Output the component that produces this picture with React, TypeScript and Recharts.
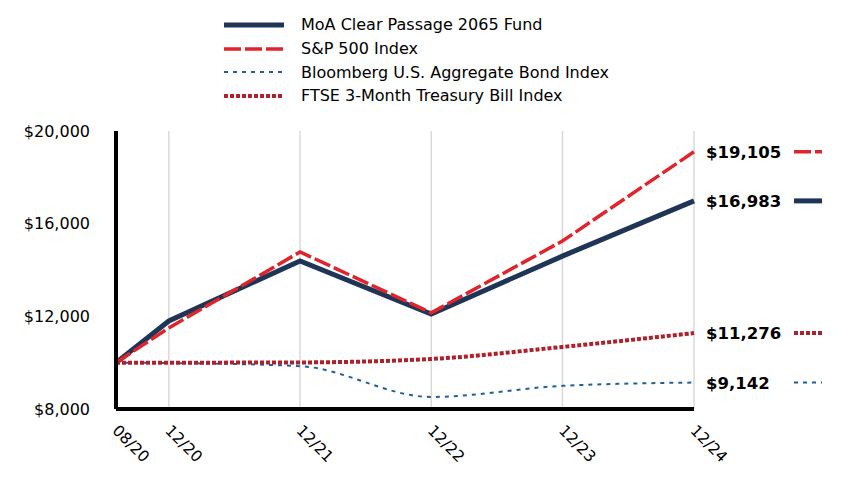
import React from "react";
import { LineChart, Line, XAxis, YAxis, CartesianGrid, Legend, LabelList } from "recharts";

const dates = ["2020-08-06", "2020-12-31", "2021-12-31", "2022-12-31", "2023-12-31", "2024-12-31"];
const dateLabels = ["08/20", "12/20", "12/21", "12/22", "12/23", "12/24"];
const fund = [10000, 11800, 14390, 12100, 14600, 16983];
const sp500 = [10000, 11500, 14780, 12150, 15250, 19105];
const bloomberg = [10000, 9985, 9850, 8520, 9000, 9142];
const ftse = [10000, 10000, 10010, 10160, 10680, 11276];
const yTicks = [8000, 12000, 16000, 20000];

const times = dates.map((d) => Date.parse(d + "T00:00:00Z"));

const data = times.map((t, i) => ({
    t,
    fund: fund[i],
    sp500: sp500[i],
    bloomberg: bloomberg[i],
    ftse: ftse[i]
}));

const series = [
    { key: "fund", name: "MoA Clear Passage 2065 Fund", color: "#1f3557", width: 5, dash: undefined, curve: "linear" },
    { key: "sp500", name: "S&P 500 Index", color: "#e0242b", width: 3.5, dash: "17 4", curve: "linear" },
    { key: "bloomberg", name: "Bloomberg U.S. Aggregate Bond Index", color: "#1f5fa0", width: 2, dash: "4 5", curve: "monotone" },
    { key: "ftse", name: "FTSE 3-Month Treasury Bill Index", color: "#b0202a", width: 4, dash: "4 2", curve: "monotone" }
] as const;

const font = "'DejaVu Sans', Verdana, sans-serif";
const money = (v: number) => "$" + v.toLocaleString("en-US");

const XTick = (props: any) => {
    const { x, y, payload } = props;
    const idx = times.indexOf(payload.value);
    return (
        <g transform={`translate(${x - 1},${y + 11})`}>
            <text transform="rotate(45)" textAnchor="start" dy={5} fontSize={15.5} fill="#000" fontFamily={font}>
                {dateLabels[idx]}
            </text>
        </g>
    );
};

const legendContent = () => (
    <div style={{ fontFamily: font, fontSize: 16, color: "#000" }}>
        {series.map((s) => (
            <div key={s.key} style={{ display: "flex", alignItems: "center", height: 23.7 }}>
                <svg width={62} height={10} style={{ marginRight: 15 }}>
                    <line x1={0} y1={5} x2={60} y2={5} stroke={s.color} strokeWidth={s.width} strokeDasharray={s.dash} />
                </svg>
                <span>{s.name}</span>
            </div>
        ))}
    </div>
);

const endLabel = (s: (typeof series)[number]) => (props: any) => {
    const { x, y, index, value } = props;
    if (index !== data.length - 1) return null;
    return (
        <g>
            <text x={x + 12} y={y} dy={6} fontSize={16.5} fontWeight="bold" fill="#000" fontFamily={font}>
                {money(value)}
            </text>
            <line x1={x + 100} y1={y} x2={x + 128} y2={y} stroke={s.color} strokeWidth={s.width} strokeDasharray={s.dash} />
        </g>
    );
};

export default function App() {
    return (
        <div style={{ position: "absolute", left: 0, top: 0, width: 864, height: 504, background: "#fff" }}>
            <LineChart width={864} height={504} data={data} margin={{ top: 131, right: 170, bottom: 0, left: 0 }}>
                <CartesianGrid horizontal={false} stroke="#d9d9d9" strokeWidth={1.5} />
                <XAxis
                    dataKey="t"
                    type="number"
                    domain={[times[0], times[times.length - 1]]}
                    ticks={times}
                    tick={<XTick />}
                    tickLine={false}
                    axisLine={{ stroke: "#000", strokeWidth: 4 }}
                    interval={0}
                    height={95}
                />
                <YAxis
                    domain={[8000, 20000]}
                    ticks={yTicks}
                    tickFormatter={money}
                    tickLine={false}
                    axisLine={{ stroke: "#000", strokeWidth: 4 }}
                    width={116}
                    tickMargin={20}
                    tick={{ fontSize: 16, fill: "#000", fontFamily: font }}
                />
                <Legend
                    layout="vertical"
                    align="center"
                    verticalAlign="middle"
                    content={legendContent}
                    wrapperStyle={{ top: 13, left: 224, width: 440 }}
                />
                {series.map((s) => (
                    <Line
                        key={s.key}
                        dataKey={s.key}
                        name={s.name}
                        type={s.curve}
                        stroke={s.color}
                        strokeWidth={s.width}
                        strokeDasharray={s.dash}
                        dot={false}
                        isAnimationActive={false}
                    >
                        <LabelList dataKey={s.key} content={endLabel(s)} />
                    </Line>
                ))}
            </LineChart>
        </div>
    );
}
